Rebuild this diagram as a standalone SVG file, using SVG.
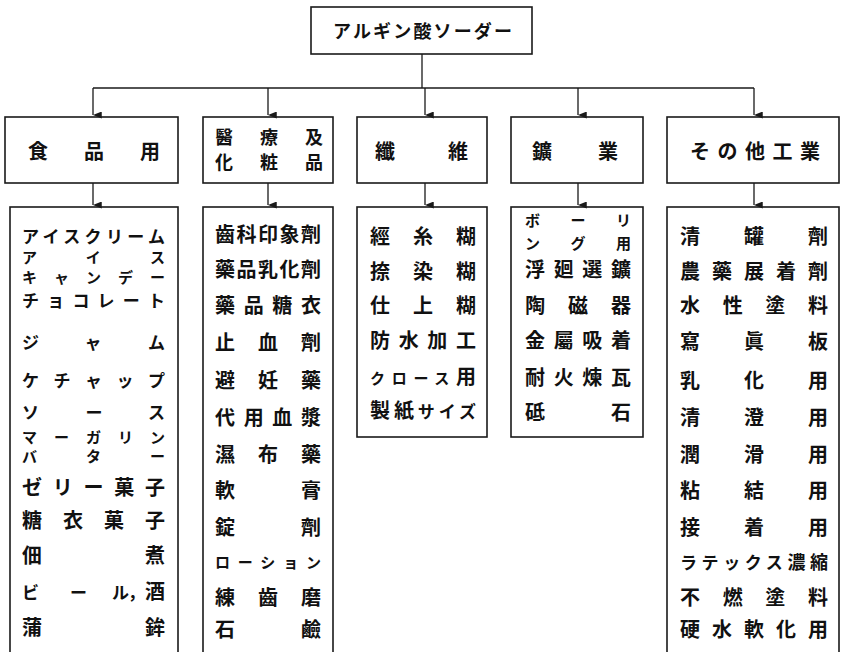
<svg xmlns="http://www.w3.org/2000/svg" width="843" height="652" viewBox="0 0 843 652">
<style>
.box{fill:none;stroke:#1a1a1a;stroke-width:1.6}
.ln{fill:none;stroke:#1a1a1a;stroke-width:1.3}
text{font-family:"Noto Sans CJK JP","Noto Sans CJK SC",sans-serif;font-weight:bold;fill:#111}
.h{font-size:20px}
.h2{font-size:18px}
.k{font-size:20px}
.s{font-size:15px}
.m{font-size:17px}
</style>
<defs>
<marker id="ar" viewBox="0 0 8 10" refX="4" refY="10" markerWidth="7" markerHeight="9" markerUnits="userSpaceOnUse" orient="auto-start-reverse">
<path d="M0,0 L8,0 L4,10 Z" fill="#1a1a1a"/>
</marker>
</defs>
<rect width="843" height="652" fill="#fff"/>

<g id="connectors">
<line class="ln" x1="422" y1="54" x2="422" y2="88"/>
<line class="ln" x1="93" y1="88" x2="754" y2="88"/>
<path class="ln" d="M93,88 V115" marker-end="url(#ar)"/>
<path class="ln" d="M268,88 V115" marker-end="url(#ar)"/>
<path class="ln" d="M425,88 V115" marker-end="url(#ar)"/>
<path class="ln" d="M578,88 V115" marker-end="url(#ar)"/>
<path class="ln" d="M754,88 V115" marker-end="url(#ar)"/>
<path class="ln" d="M93,183 V205" marker-end="url(#ar)"/>
<path class="ln" d="M268,183 V205" marker-end="url(#ar)"/>
<path class="ln" d="M425,183 V205" marker-end="url(#ar)"/>
<path class="ln" d="M578,183 V205" marker-end="url(#ar)"/>
<path class="ln" d="M754,183 V205" marker-end="url(#ar)"/>
</g>

<g id="root">
<rect class="box" x="311" y="7" width="221" height="47"/>
<text class="h2" x="333" y="38" textLength="179" lengthAdjust="spacing">アルギン酸ソーダー</text>
</g>

<g id="food">
<rect class="box" x="5" y="117" width="173" height="66"/>
<text class="h" x="28" y="159" textLength="132" lengthAdjust="spacing">食品用</text>
</g>
<g id="medical">
<rect class="box" x="203" y="117" width="130" height="66"/>
<text class="h2" x="215" y="144" textLength="108" lengthAdjust="spacing">醫療及</text>
<text class="h2" x="215" y="169" textLength="108" lengthAdjust="spacing">化粧品</text>
</g>
<g id="textile">
<rect class="box" x="357" y="117" width="130" height="66"/>
<text class="h" x="375" y="159" textLength="93" lengthAdjust="spacing">纖維</text>
</g>
<g id="mining">
<rect class="box" x="511" y="117" width="132" height="66"/>
<text class="h" x="532" y="159" textLength="86" lengthAdjust="spacing">鑛業</text>
</g>
<g id="other">
<rect class="box" x="667" y="117" width="172" height="66"/>
<text class="h" x="690" y="159" textLength="130" lengthAdjust="spacing">その他工業</text>
</g>

<g id="food-list">
<rect class="box" x="10" y="207" width="168" height="450"/>
<text class="m" x="22" y="243" textLength="143" lengthAdjust="spacing">アイスクリーム</text>
<text class="s" x="22" y="263" textLength="143" lengthAdjust="spacing">アイス</text>
<text class="s" x="22" y="283" textLength="143" lengthAdjust="spacing">キャンデー</text>
<text class="m" x="22" y="307" textLength="143" lengthAdjust="spacing">チョコレート</text>
<text class="m" x="22" y="349" textLength="143" lengthAdjust="spacing">ジャム</text>
<text class="m" x="22" y="387" textLength="143" lengthAdjust="spacing">ケチャップ</text>
<text class="m" x="22" y="419" textLength="143" lengthAdjust="spacing">ソース</text>
<text class="s" x="22" y="443" textLength="143" lengthAdjust="spacing">マーガリン</text>
<text class="s" x="22" y="462" textLength="143" lengthAdjust="spacing">バター</text>
<text class="k" x="22" y="495" textLength="143" lengthAdjust="spacing">ゼリー菓子</text>
<text class="k" x="22" y="528" textLength="143" lengthAdjust="spacing">糖衣菓子</text>
<text class="k" x="22" y="563" textLength="143" lengthAdjust="spacing">佃煮</text>
<text class="k" x="22 70 112 128 145" y="599"><tspan class="m">ビール，</tspan>酒</text>
<text class="k" x="22" y="635" textLength="143" lengthAdjust="spacing">蒲鉾</text>
</g>

<g id="medical-list">
<rect class="box" x="203" y="207" width="130" height="450"/>
<text class="k" x="215" y="242" textLength="106" lengthAdjust="spacing">齒科印象劑</text>
<text class="k" x="215" y="277" textLength="106" lengthAdjust="spacing">藥品乳化劑</text>
<text class="k" x="215" y="313" textLength="106" lengthAdjust="spacing">藥品糖衣</text>
<text class="k" x="215" y="350" textLength="106" lengthAdjust="spacing">止血劑</text>
<text class="k" x="215" y="388" textLength="106" lengthAdjust="spacing">避妊藥</text>
<text class="k" x="215" y="425" textLength="106" lengthAdjust="spacing">代用血漿</text>
<text class="k" x="215" y="462" textLength="106" lengthAdjust="spacing">濕布藥</text>
<text class="k" x="215" y="498" textLength="106" lengthAdjust="spacing">軟膏</text>
<text class="k" x="215" y="535" textLength="106" lengthAdjust="spacing">錠劑</text>
<text class="s" x="215" y="568" textLength="106" lengthAdjust="spacing">ローション</text>
<text class="k" x="215" y="605" textLength="106" lengthAdjust="spacing">練齒磨</text>
<text class="k" x="215" y="637" textLength="106" lengthAdjust="spacing">石鹼</text>
</g>

<g id="textile-list">
<rect class="box" x="357" y="207" width="130" height="230"/>
<text class="k" x="370" y="244" textLength="106" lengthAdjust="spacing">經糸糊</text>
<text class="k" x="370" y="279" textLength="106" lengthAdjust="spacing">捺染糊</text>
<text class="k" x="370" y="313" textLength="106" lengthAdjust="spacing">仕上糊</text>
<text class="k" x="370" y="348" textLength="106" lengthAdjust="spacing">防水加工</text>
<text x="370" y="384" textLength="106" lengthAdjust="spacing"><tspan class="s">クロース</tspan><tspan class="k">用</tspan></text>
<text x="370" y="418" textLength="106" lengthAdjust="spacing"><tspan class="k">製紙</tspan><tspan class="m">サイズ</tspan></text>
</g>

<g id="mining-list">
<rect class="box" x="511" y="207" width="132" height="230"/>
<text class="s" x="525" y="226" textLength="106" lengthAdjust="spacing">ボーリ</text>
<text class="s" x="525" y="249" textLength="106" lengthAdjust="spacing">ング用</text>
<text class="k" x="525" y="277" textLength="106" lengthAdjust="spacing">浮廻選鑛</text>
<text class="k" x="525" y="313" textLength="106" lengthAdjust="spacing">陶磁器</text>
<text class="k" x="525" y="348" textLength="106" lengthAdjust="spacing">金屬吸着</text>
<text class="k" x="525" y="385" textLength="106" lengthAdjust="spacing">耐火煉瓦</text>
<text class="k" x="525" y="420" textLength="106" lengthAdjust="spacing">砥石</text>
</g>

<g id="other-list">
<rect class="box" x="667" y="207" width="172" height="450"/>
<text class="k" x="680" y="244" textLength="148" lengthAdjust="spacing">清罐劑</text>
<text class="k" x="680" y="279" textLength="148" lengthAdjust="spacing">農藥展着劑</text>
<text class="k" x="680" y="313" textLength="148" lengthAdjust="spacing">水性塗料</text>
<text class="k" x="680" y="349" textLength="148" lengthAdjust="spacing">寫眞板</text>
<text class="k" x="680" y="388" textLength="148" lengthAdjust="spacing">乳化用</text>
<text class="k" x="680" y="425" textLength="148" lengthAdjust="spacing">清澄用</text>
<text class="k" x="680" y="462" textLength="148" lengthAdjust="spacing">潤滑用</text>
<text class="k" x="680" y="498" textLength="148" lengthAdjust="spacing">粘結用</text>
<text class="k" x="680" y="535" textLength="148" lengthAdjust="spacing">接着用</text>
<text x="680" y="569" textLength="148" lengthAdjust="spacing"><tspan class="m">ラテックス</tspan><tspan class="h2">濃縮</tspan></text>
<text class="k" x="680" y="605" textLength="148" lengthAdjust="spacing">不燃塗料</text>
<text class="k" x="680" y="637" textLength="148" lengthAdjust="spacing">硬水軟化用</text>
</g>
</svg>
